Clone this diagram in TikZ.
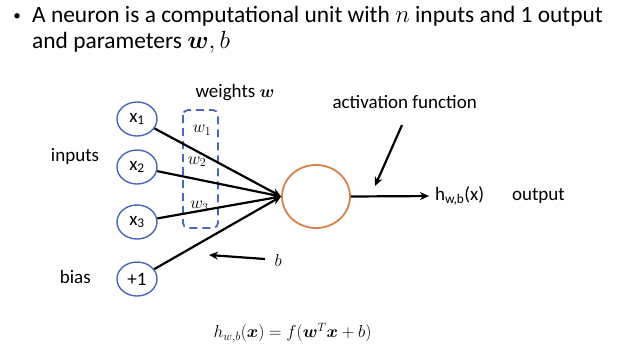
\documentclass[tikz,border=0pt]{standalone}
\usepackage{amsmath}
\usepackage{fontspec}
\setmainfont{Carlito}
\usetikzlibrary{shapes.geometric,arrows.meta}
\definecolor{inblue}{RGB}{72,104,190}
\definecolor{neuronorange}{RGB}{216,128,76}
\tikzset{
  inode/.style={ellipse, draw=inblue, line width=1.4pt, minimum width=40pt, minimum height=34pt, inner sep=0pt, font=\fontsize{19}{22}\selectfont},
  neuron/.style={ellipse, draw=neuronorange, line width=1.8pt, minimum width=68pt, minimum height=63pt, inner sep=0pt},
  conn/.style={line width=2.2pt, -{Stealth[length=9pt,width=8pt]}},
  lab/.style={inner sep=0pt, font=\fontsize{19}{22}\selectfont},
  wlab/.style={inner sep=0pt, font=\fontsize{18}{21}\selectfont},
  top/.style={inner sep=0pt, anchor=base west, font=\fontsize{23.4}{28}\selectfont},
  wbox/.style={draw=inblue, dashed, dash pattern=on 8pt off 5pt, line width=1.8pt, rounded corners=5pt}
}
\begin{document}
\begin{tikzpicture}[x=1pt,y=-1pt]
\useasboundingbox (0,0) rectangle (624,346);
% header
\node[inner sep=0pt, font=\fontsize{15}{18}\selectfont] (bul) at (17,17) {•};
\node[top] (t1) at (32,22.7) {A neuron is a computational unit with $n$ inputs and 1 output};
\node[top] (t2) at (32,48.3) {and parameters $\boldsymbol{w}, b$};
% inputs
\node[inode] (x1) at (137,119) {x\textsubscript{1}};
\node[inode] (x2) at (137,167) {x\textsubscript{2}};
\node[inode] (x3) at (137,222) {x\textsubscript{3}};
\node[inode] (xb) at (137,279) {+1};
\node[lab, anchor=east] (inp) at (99.3,156.7) {inputs};
\node[lab] (bias) at (75.3,276.7) {bias};
% neuron
\node[neuron] (n) at (316,196.5) {};
% weights box
\draw[wbox] (183,110) rectangle (218,228);
\node[lab] (wt) at (235,93) {weights $\boldsymbol{w}$};
% connectors
\draw[conn] (x1) -- (n.west);
\draw[conn] (x2) -- (n.west);
\draw[conn] (x3) -- (n.west);
\draw[conn] (xb) -- (n.west);
\node[wlab] (w1) at (202,130) {$w_1$};
\node[wlab] (w2) at (197,161.7) {$w_2$};
\node[wlab] (w3) at (199.5,206) {$w_3$};
% bias arrow
\coordinate (bs) at (265,259);
\coordinate (be) at (209,255);
\draw[conn] (bs) -- (be);
\node[inner sep=0pt, font=\fontsize{19}{22}\selectfont] (blab) at (278.3,260) {$b$};
% activation
\node[lab] (act) at (404.7,101.7) {activation function};
\coordinate (as) at (402,125);
\coordinate (ae) at (375,186);
\draw[conn] (as) -- (ae);
% output
\node[lab, anchor=west] (h) at (435,196) {h\textsubscript{w,b}(x)};
\draw[conn, shorten >=6pt] (n.east) -- (h.west);
\node[lab] (out) at (538.4,196) {output};
% formula
\node[inner sep=0pt, font=\fontsize{17.5}{21}\selectfont] (f) at (292.5,332.7) {$h_{w,b}(\boldsymbol{x}) = f(\boldsymbol{w}^T\boldsymbol{x}+b)$};
\end{tikzpicture}
\end{document}
